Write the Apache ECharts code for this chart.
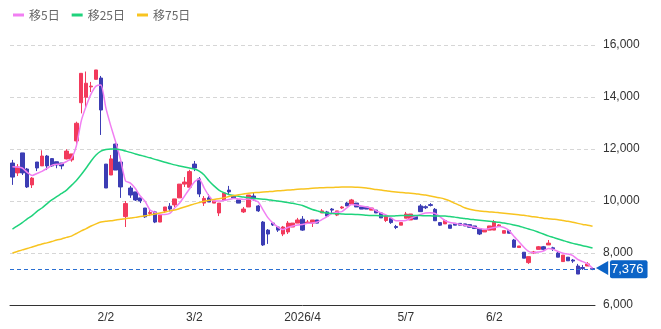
<!DOCTYPE html>
<html>
<head>
<meta charset="utf-8">
<script src="https://cdn.jsdelivr.net/npm/echarts@6/dist/echarts.min.js"></script>
<style>
html, body { margin: 0; padding: 0; background: #fff; }
#chart { width: 661px; height: 329px; }
</style>
</head>
<body>
<div id="chart"></div>
<script>
var dates = [
    '1/5','1/6','1/7','1/8','1/9','1/13','1/14','1/15','1/16','1/19','1/20','1/21','1/22','1/23','1/26','1/27','1/28','1/29','1/30',
    '2/2','2/3','2/4','2/5','2/6','2/9','2/10','2/12','2/13','2/16','2/17','2/18','2/19','2/20','2/24','2/25','2/26','2/27',
    '3/2','3/3','3/4','3/5','3/6','3/9','3/10','3/11','3/12','3/13','3/16','3/17','3/18','3/19','3/20','3/23','3/24','3/25','3/26','3/27','3/30','3/31',
    '4/1','4/2','4/3','4/6','4/7','4/8','4/9','4/10','4/13','4/14','4/15','4/16','4/17','4/20','4/21','4/22','4/23','4/24','4/27','4/28','4/30',
    '5/7','5/8','5/11','5/12','5/13','5/14','5/15','5/18','5/19','5/20','5/21','5/22','5/25','5/26','5/27','5/28','5/29',
    '6/1','6/2','6/3','6/4','6/5','6/8','6/9','6/10','6/11','6/12','6/15','6/16','6/17','6/18','6/19','6/22','6/23','6/24','6/25','6/26','6/29','6/30'
];
// 軸に出す日付とその表示
var tickDates = ['2/2', '3/2', '4/1', '5/7', '6/2'];
var tickTexts = ['2/2', '3/2', '2026/4', '5/7', '6/2'];

var opens = [
    11460,11080,11850,11230,10620,11500,11350,11730,11630,11510,
    11460,11620,11580,12310,13780,13990,14390,14680,14730,11420,
    11000,12190,11500,9400,10500,10350,10120,9730,9520,9580,
    9190,9620,9800,9850,10120,10650,10530,11420,10850,9920,
    10120,9920,9540,10040,10420,10190,10040,9580,9770,10190,
    9810,9190,8880,9150,9000,8730,8810,9000,9150,9300,
    9150,9150,9270,9540,9580,9690,9460,9730,9920,9880,
    9920,9770,9770,9650,9650,9540,9250,9330,9020,9070,
    9340,9270,9400,9810,9780,9860,9680,9170,9120,9080,
    9140,9140,9120,9090,9040,8940,8810,8880,8880,9040,
    8760,8860,8500,8210,8030,7630,8000,8140,8240,8310,
    8200,8000,7670,7840,7730,7500,7440,7500,7400
];
var closes = [
    10920,11310,11080,10540,10880,11270,11730,11350,11350,11390,
    11350,11920,11810,12990,14910,14530,14420,15040,13500,10500,
    11620,11190,10540,9900,10230,10040,10000,9390,9560,9190,
    9460,9770,9690,10080,10650,10730,11130,11270,10270,10100,
    9960,10000,9920,10310,10350,10120,9920,9690,10230,10080,
    9620,8310,8730,9080,8880,9000,9150,9150,9270,8880,
    9190,9270,9150,9620,9420,9650,9620,9770,9810,10040,
    9770,9690,9690,9730,9540,9350,9420,9170,8980,9170,
    9500,9500,9300,9590,9740,9830,9240,9070,9250,8950,
    9070,9070,9040,8990,8940,8730,8880,9040,9200,9080,
    8860,8760,8220,8270,7800,7860,8040,8240,8140,8380,
    8160,7840,7920,7700,7690,7190,7400,7580,7376
];
var lows = [
    10620,10960,11000,10500,10500,11150,11350,11190,11310,11260,
    11220,11600,11510,12150,13370,13570,14190,14680,12540,10500,
    11000,11190,10120,9000,10120,10000,9920,9350,9420,9150,
    9190,9540,9600,9770,10120,10540,10530,11150,10150,9810,
    9960,9920,9420,10040,10270,10120,9920,9540,9770,10000,
    9580,8270,8350,9040,8810,8650,8730,9000,9150,8850,
    9120,9000,9150,9540,9380,9540,9420,9690,9810,9880,
    9770,9690,9690,9650,9540,9350,9190,9120,8920,9070,
    9340,9270,9300,9590,9690,9790,9240,9040,9120,8950,
    9070,9070,9040,8990,8940,8690,8810,8880,8880,9020,
    8760,8760,8220,8210,7800,7580,7960,8140,8080,8310,
    8080,7840,7670,7700,7620,7190,7350,7500,7340
];
var highs = [
    11580,11420,11850,11270,10920,11500,11950,11770,11650,11510,
    11460,11990,11810,13050,14910,14980,14580,15040,14810,11420,
    11770,12230,11500,10000,10580,10350,10120,9730,9650,9620,
    9460,9770,9920,10080,10650,10920,11200,11540,10920,10190,
    10270,10000,9920,10310,10580,10190,10040,9770,10230,10310,
    9850,9230,8920,9190,9000,9040,9230,9150,9350,9420,
    9270,9270,9270,9690,9620,9730,9620,9810,9960,10080,
    9920,9770,9770,9730,9650,9540,9460,9330,9080,9170,
    9580,9500,9400,9880,9830,9920,9730,9170,9290,9080,
    9140,9140,9120,9090,9040,8940,8880,9040,9270,9110,
    8860,8860,8540,8270,8030,7860,8080,8270,8270,8500,
    8240,8040,7920,7840,7770,7580,7540,7650,7440
];

var ma5 = [
    11320,11310,11270,11100,10980,11060,11140,11250,11370,11410,
    11430,11520,11640,12120,13080,13650,14120,14420,14460,13580,
    12890,12270,11580,10770,10690,10480,10190,9980,9650,9560,
    9480,9480,9520,9730,9920,10190,10460,10730,10850,10500,
    10190,10000,10000,10020,10060,10100,10080,10060,10080,10040,
    9960,9650,9350,9150,9000,8900,8980,9040,9080,9100,
    9140,9150,9190,9290,9400,9530,9570,9590,9730,9870,
    9850,9810,9770,9730,9620,9540,9460,9350,9240,9240,
    9250,9330,9410,9480,9540,9550,9520,9390,9250,9170,
    9140,9100,9070,9030,8990,8940,8910,8940,8980,9020,
    8980,8870,8640,8440,8230,8060,8010,8040,8080,8170,
    8140,8060,7990,7960,7900,7750,7670,7580,7410
];
var ma25 = [
    8920,9040,9170,9310,9440,9600,9730,9890,10040,10170,
    10290,10420,10600,10790,11020,11270,11540,11770,11920,11980,
    12000,12000,11970,11920,11870,11810,11760,11710,11660,11600,
    11550,11490,11440,11390,11350,11310,11270,11230,11150,11000,
    10770,10580,10420,10320,10250,10210,10180,10150,10130,10110,
    10090,10070,10050,10020,10000,9970,9940,9910,9870,9830,
    9750,9670,9620,9570,9540,9520,9510,9500,9490,9490,
    9480,9470,9450,9440,9440,9430,9420,9420,9430,9440,
    9440,9440,9440,9440,9430,9430,9420,9420,9420,9400,
    9380,9350,9330,9300,9280,9260,9240,9220,9200,9180,
    9150,9120,9080,9040,8980,8920,8870,8800,8730,8660,
    8600,8540,8480,8420,8370,8330,8280,8240,8190
];
var ma75 = [
    8000,8060,8120,8170,8230,8290,8350,8390,8440,8500,
    8540,8600,8650,8750,8850,8940,9040,9120,9190,9220,
    9240,9270,9300,9320,9350,9370,9400,9430,9460,9500,
    9540,9580,9620,9650,9710,9770,9830,9890,9940,9990,
    10030,10060,10090,10120,10170,10210,10240,10270,10300,10320,
    10330,10350,10360,10370,10390,10400,10420,10430,10450,10460,
    10470,10490,10500,10510,10520,10520,10530,10540,10540,10540,
    10530,10520,10500,10470,10440,10420,10390,10370,10350,10330,
    10310,10300,10280,10250,10230,10190,10150,10120,10070,10000,
    9910,9830,9740,9680,9640,9620,9600,9580,9570,9550,
    9530,9510,9490,9470,9450,9420,9390,9370,9340,9320,
    9300,9280,9250,9220,9180,9140,9100,9070,9030
];

var lastPrice = closes[closes.length - 1];

var ohlc = [];
for (var i = 0; i < dates.length; i++) {
    ohlc.push([opens[i], closes[i], lows[i], highs[i]]);
}

var upColor = '#f23a5c';
var downColor = '#3c3db4';
var tagColor = '#0b63c6';

var chart = echarts.init(document.getElementById('chart'));

var option = {
    animation: false,
    textStyle: {
        fontFamily: "'Liberation Sans', 'Noto Sans CJK JP', sans-serif"
    },
    legend: {
        left: 8,
        top: 4,
        icon: 'rect',
        itemWidth: 11,
        itemHeight: 3,
        itemGap: 12,
        textStyle: { color: '#666', fontSize: 12, fontFamily: "'Noto Sans CJK JP', sans-serif" },
        data: ['移5日', '移25日', '移75日']
    },
    grid: {
        left: 10,
        right: 66,
        top: 45,
        bottom: 24
    },
    xAxis: {
        type: 'category',
        data: dates,
        boundaryGap: true,
        axisLine: { lineStyle: { color: '#333', width: 1 } },
        axisTick: { show: false },
        splitLine: { show: false },
        axisLabel: {
            color: '#333',
            fontSize: 12,
            margin: 7,
            interval: function (idx, value) {
                return tickDates.indexOf(value) >= 0;
            },
            formatter: function (value) {
                var k = tickDates.indexOf(value);
                return k >= 0 ? tickTexts[k] : '';
            }
        }
    },
    yAxis: {
        type: 'value',
        position: 'right',
        min: 6000,
        max: 16000,
        interval: 2000,
        axisLine: { show: false },
        axisTick: { show: false },
        axisLabel: { color: '#333', fontSize: 12, margin: 8 },
        splitLine: { lineStyle: { color: '#d6d6d6', type: [4, 3] } }
    },
    series: [
        {
            name: 'ローソク足',
            type: 'candlestick',
            data: ohlc,
            barWidth: '80%',
            itemStyle: {
                color: upColor,
                color0: downColor,
                borderColor: upColor,
                borderColor0: downColor,
                borderWidth: 1
            },
            markLine: {
                silent: true,
                symbol: 'none',
                animation: false,
                lineStyle: { color: '#2a6fd2', type: [4, 3], width: 1, opacity: 1 },
                label: {
                    position: 'end',
                    distance: 0,
                    formatter: function (p) {
                        return '{arr|◀}{box|' + echarts.format.addCommas(p.value) + '}';
                    },
                    rich: {
                        arr: { color: tagColor, fontSize: 15, lineHeight: 18, padding: [0, 0, 1, 0] },
                        box: {
                            color: '#fff',
                            backgroundColor: tagColor,
                            fontSize: 13,
                            lineHeight: 18,
                            height: 18,
                            padding: [0, 4, 0, 1],
                            borderRadius: 2
                        }
                    }
                },
                data: [{ yAxis: lastPrice }]
            }
        },
        {
            name: '移5日',
            type: 'line',
            data: ma5,
            showSymbol: false,
            smooth: 0.2,
            itemStyle: { color: '#f17ff2' },
            lineStyle: { color: '#f17ff2', width: 1.5 }
        },
        {
            name: '移25日',
            type: 'line',
            data: ma25,
            showSymbol: false,
            smooth: 0.2,
            itemStyle: { color: '#1fd37c' },
            lineStyle: { color: '#1fd37c', width: 1.5 }
        },
        {
            name: '移75日',
            type: 'line',
            data: ma75,
            showSymbol: false,
            smooth: 0.2,
            itemStyle: { color: '#f8c420' },
            lineStyle: { color: '#f8c420', width: 1.5 }
        }
    ]
};

chart.setOption(option);
</script>
</body>
</html>
